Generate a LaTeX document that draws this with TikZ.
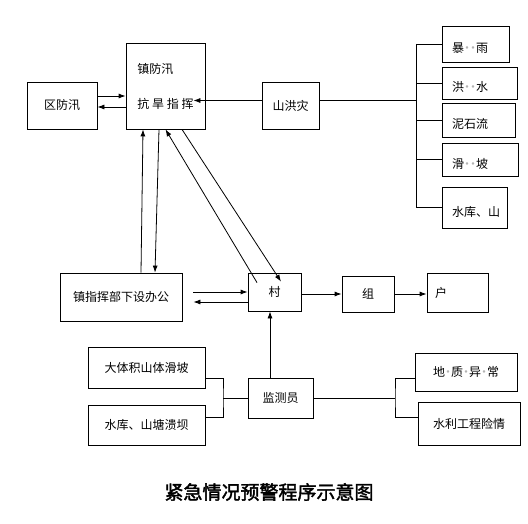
\documentclass[tikz,border=0pt]{standalone}
\usepackage{fontspec}
\newfontfamily\cjk{Noto Sans CJK SC}
\newfontfamily\cjkbold[FakeBold=2]{Noto Sans CJK SC}
\usepackage{xcolor}
\usepackage{tikz}
\usetikzlibrary{arrows.meta, positioning, calc}

\newcommand{\gdot}{\makebox[6pt]{\color{gray!60}·}}

\begin{document}
\begin{tikzpicture}[
    x=1pt, y=-1pt,
    box/.style = {rectangle, draw=black, line width=0.8pt, inner sep=3pt, align=center, font=\cjk\fontsize{12}{14}\selectfont},
    lbox/.style = {box, align=left, inner xsep=10pt},
    rbox/.style = {lbox, text height=20pt, text depth=2pt},
    arrow/.style = {line width=0.8pt, ->, >={Latex[length=7pt,width=5pt]}},
    line/.style = {line width=0.8pt}
]
\useasboundingbox (0,0) rectangle (528,524);

% Top row
\node (qu) [box, minimum width=70pt, minimum height=47pt] at (62,105.5) {区防汛};
\node (zhen) [box, align=left, minimum width=79pt, minimum height=86pt, font=\cjk\fontsize{12}{35}\selectfont] at (165.5,86) {镇防汛\\抗 旱 指 挥};
\node (shx) [box, minimum width=57pt, minimum height=47pt] at (290.5,105.5) {山洪灾};

% Hazard column
\node (r1) [rbox, minimum width=67pt, text width=47pt, minimum height=36pt] at (475.5,44) {暴\gdot\gdot 雨};
\node (r2) [rbox, minimum width=75pt, text width=55pt, minimum height=32pt] at (479.5,83) {洪\gdot\gdot 水};
\node (r3) [rbox, minimum width=73pt, text width=53pt, minimum height=34pt] at (478.5,120) {泥石流};
\node (r4) [rbox, minimum width=76pt, text width=56pt, minimum height=33pt] at (480,159.5) {滑\gdot\gdot 坡};
\node (r5) [rbox, minimum width=65pt, text width=45pt, minimum height=41pt] at (474.5,207.5) {水库、山};

% Middle row
\node (office) [box, minimum width=122pt, minimum height=48pt] at (121,297) {镇指挥部下设办公};
\node (cun) [box, minimum width=53pt, minimum height=38pt] at (274.5,292) {村};
\node (zu) [box, minimum width=52pt, minimum height=36pt] at (368,294) {组};
\node (hu) [lbox, inner xsep=8pt, minimum width=61pt, text width=45pt, minimum height=39pt] at (457.5,292.5) {户};

% Bottom row
\node (dt) [box, minimum width=117pt, minimum height=41pt] at (146.5,367.5) {大体积山体滑坡};
\node (sk) [box, minimum width=117pt, minimum height=40pt] at (146.5,425) {水库、山塘溃坝};
\node (jc) [box, minimum width=65pt, minimum height=40pt] at (280.5,398) {监测员};
\node (dz) [box, minimum width=102pt, minimum height=38pt] at (466,372) {地\gdot 质\gdot 异\gdot 常};
\node (sl) [box, minimum width=102pt, minimum height=43pt] at (469,423.5) {水利工程险情};

% Title
\node (title) [font=\cjkbold\fontsize{19}{22}\selectfont] at (269,492) {紧急情况预警程序示意图};

% Bus points
\coordinate (bus) at (416,100.5);
\coordinate (lb) at (223,398);
\coordinate (rb) at (395,398);

% Arrows
\draw [arrow] ([yshift=9.5pt]qu.east) -- ([yshift=9.5pt]qu.east -| zhen.west);
\draw [arrow] ([yshift=-1.5pt]qu.east -| zhen.west) -- ([yshift=-1.5pt]qu.east);
\draw [arrow] (bus -| shx.west) -- ([xshift=-12pt]bus -| zhen.east);
\draw [line] (bus -| shx.east) -- (bus);
\draw [line] (bus |- r1.west) -- (bus |- r5.west);
\draw [line] (bus |- r1.west) -- (r1.west);
\draw [line] (bus |- r2.west) -- (r2.west);
\draw [line] (bus |- r3.west) -- (r3.west);
\draw [line] (bus |- r4.west) -- (r4.west);
\draw [line] (bus |- r5.west) -- (r5.west);

\draw [arrow] ([xshift=20pt]office.north) -- ([xshift=-22.5pt]zhen.south);
\draw [arrow] ([xshift=-6.5pt]zhen.south) -- ([xshift=34pt]office.north);
\draw [arrow] ([xshift=-17.5pt,yshift=-10pt]cun.north) -- (zhen.south);
\draw [arrow] ([xshift=16.5pt]zhen.south) -- ([xshift=6.5pt,yshift=-9pt]cun.north);

\draw [arrow] ([xshift=11pt,yshift=5pt]office.east) -- (cun.west);
\draw [arrow] ([yshift=-10pt]cun.west) -- ([xshift=11pt,yshift=-5pt]office.east);
\draw [arrow] (cun.east |- zu.west) -- (zu.west);
\draw [arrow] (zu.east) -- (zu.east -| hu.west);
\draw [arrow] ([xshift=-10.5pt]jc.north) -- ([xshift=-10.5pt]jc.north |- cun.south);

% Brackets
\draw [line] ([yshift=-10.5pt]dt.east) -| (lb) |- ([yshift=8pt]sk.east);
\draw [line] (lb) -- (jc.west);
\draw [line] (jc.east) -- (rb);
\draw [line] ([yshift=-6pt]dz.west) -| (rb) |- ([yshift=6.5pt]sl.west);

\end{tikzpicture}
\end{document}
